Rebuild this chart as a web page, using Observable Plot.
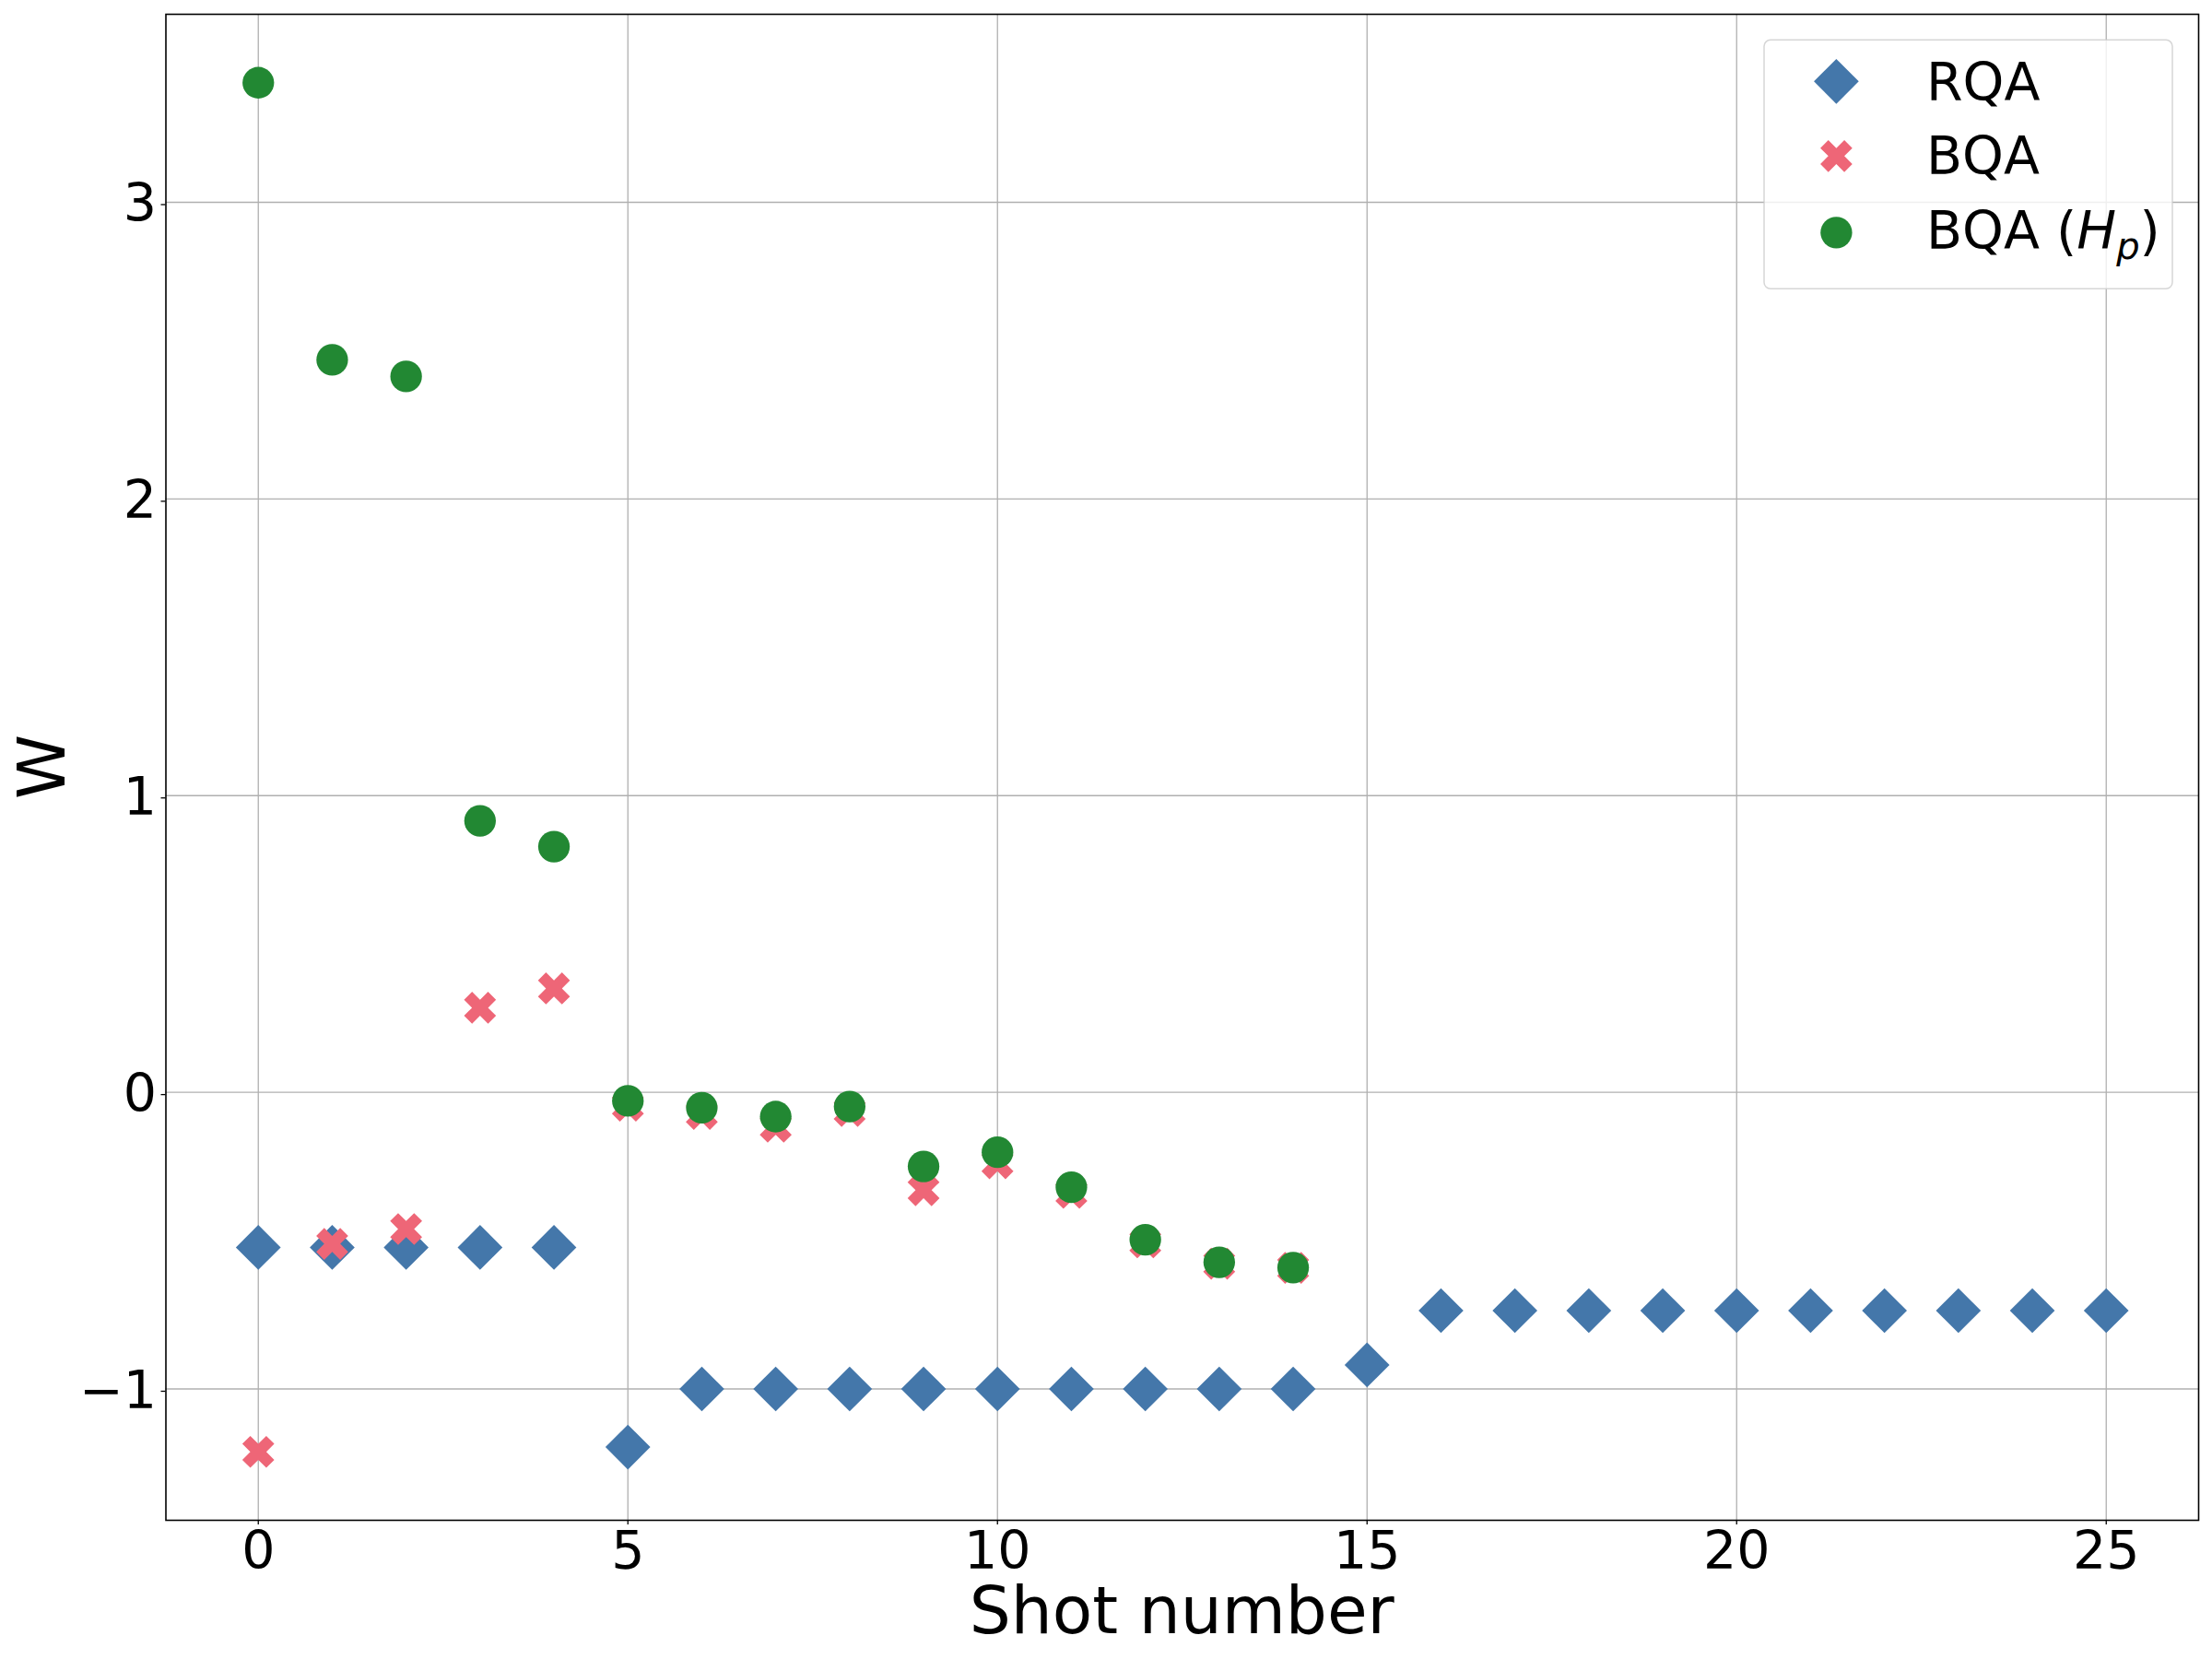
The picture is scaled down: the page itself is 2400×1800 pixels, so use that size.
<!DOCTYPE html>
<html>
<head>
<meta charset="utf-8">
<script src="https://cdn.jsdelivr.net/npm/d3@7"></script>
<script src="https://cdn.jsdelivr.net/npm/@observablehq/plot@0.6"></script>
<style>
  html, body { margin: 0; padding: 0; background: #ffffff; }
  #chart { width: 2400px; height: 1800px; }
  svg { font-family: "DejaVu Sans", sans-serif; }
</style>
</head>
<body>
<div id="chart"></div>
<script>
// ---------------- data ----------------
const shotsRQA = [0,1,2,3,4,5,6,7,8,9,10,11,12,13,14,15,16,17,18,19,20,21,22,23,24,25];
const rqa = [-0.523,-0.523,-0.523,-0.523,-0.523,-1.196,-1.0,-1.0,-1.0,-1.0,-1.0,-1.0,-1.0,-1.0,-1.0,-0.919,
             -0.736,-0.736,-0.736,-0.736,-0.736,-0.736,-0.736,-0.736,-0.736,-0.736];
const shotsBQA = [0,1,2,3,4,5,6,7,8,9,10,11,12,13,14];
const bqa = [-1.212,-0.511,-0.461,0.285,0.350,-0.045,-0.073,-0.116,-0.063,-0.330,-0.239,-0.339,-0.506,-0.578,-0.592];
const bqaHp = [3.403,2.469,2.413,0.915,0.828,-0.029,-0.052,-0.082,-0.048,-0.250,-0.202,-0.320,-0.497,-0.573,-0.591];
const xTicks = [0,5,10,15,20,25];
const yTicks = [-1,0,1,2,3];
const seriesNames = ["RQA","BQA","BQA"];
const colors = ["#4477AA","#EE6677","#228833"];
const xLabel = "Shot number";
const yLabel = "W";

// ---------------- tables ----------------
const rqaData = shotsRQA.map((s,i) => ({shot: s, w: rqa[i]}));
const bqaData = shotsBQA.map((s,i) => ({shot: s, w: bqa[i]}));
const hpData  = shotsBQA.map((s,i) => ({shot: s, w: bqaHp[i]}));

// matplotlib-like autoscale margins (5%)
const allW = rqa.concat(bqa, bqaHp);
const [wMin, wMax] = d3.extent(allW);
const wPad = 0.05 * (wMax - wMin);
const [sMin, sMax] = d3.extent(shotsRQA);
const sPad = 0.05 * (sMax - sMin);

// ---------------- symbols (matplotlib-like) ----------------
const diamondSym = { draw(ctx, size) {
  const h = Math.sqrt(size) / 2;
  ctx.moveTo(0, -h); ctx.lineTo(h, 0); ctx.lineTo(0, h); ctx.lineTo(-h, 0); ctx.closePath();
}};
const xFilledSym = { draw(ctx, size) {
  const s = Math.sqrt(size);
  const pts = [[0.25,0],[0.5,0.25],[0.75,0],[1,0.25],[0.75,0.5],[1,0.75],[0.75,1],[0.5,0.75],[0.25,1],[0,0.75],[0.25,0.5],[0,0.25]];
  pts.forEach(([a,b],i) => { const x = (a-0.5)*s, y = (b-0.5)*s; if (i) ctx.lineTo(x,y); else ctx.moveTo(x,y); });
  ctx.closePath();
}};
const SQPI = Math.sqrt(Math.PI);
const diamondExtent = 48.7, crossExtent = 34.7, circleR = 17.15;

const W = 2400, H = 1800;
const mL = 179.5, mR = 15, mT = 15, mB = 151;

const chart = Plot.plot({
  width: W, height: H,
  marginLeft: mL, marginRight: mR, marginTop: mT, marginBottom: mB,
  style: { fontFamily: "DejaVu Sans", background: "#ffffff", color: "#000000", overflow: "visible" },
  x: { domain: [sMin - sPad, sMax + sPad] },
  y: { domain: [wMin - wPad, wMax + wPad] },
  marks: [
    Plot.gridX(xTicks, { stroke: "#b0b0b0", strokeOpacity: 1, strokeWidth: 1.3 }),
    Plot.gridY(yTicks, { stroke: "#b0b0b0", strokeOpacity: 1, strokeWidth: 1.3 }),
    Plot.dot(rqaData, { x: "shot", y: "w", symbol: diamondSym, r: diamondExtent / SQPI, fill: colors[0], stroke: "none" }),
    Plot.dot(bqaData, { x: "shot", y: "w", symbol: xFilledSym, r: crossExtent / SQPI, fill: colors[1], stroke: "none" }),
    Plot.dot(hpData,  { x: "shot", y: "w", r: circleR, fill: colors[2], stroke: "none" }),
    Plot.frame({ stroke: "#000000", strokeWidth: 1.6 }),
    Plot.axisX(xTicks, { tickSize: 5, tickPadding: 7, fontSize: 57, tickFormat: d3.format("d"), label: null, strokeWidth: 1.3 }),
    Plot.axisY(yTicks, { tickSize: 5, tickPadding: 5, fontSize: 57, tickFormat: d3.format("d"), label: null, strokeWidth: 1.3, dy: 2.5 })
  ]
});
document.getElementById("chart").appendChild(chart);

// ---------------- axis labels ----------------
const svg = d3.select(chart);
const plotCx = mL + (W - mL - mR) / 2;
const plotCy = mT + (H - mT - mB) / 2;
svg.append("text")
  .attr("x", plotCx).attr("y", 1772)
  .attr("text-anchor", "middle")
  .attr("font-family", "DejaVu Sans").attr("font-size", 71).attr("fill", "#000")
  .text(xLabel);
svg.append("text")
  .attr("transform", `translate(70,${plotCy}) rotate(-90)`)
  .attr("text-anchor", "middle")
  .attr("font-family", "DejaVu Sans").attr("font-size", 71).attr("fill", "#000")
  .text(yLabel);

// ---------------- legend ----------------
const lg = svg.append("g").attr("text-anchor", "start");
lg.append("rect")
  .attr("x", 1914).attr("y", 43.3).attr("width", 443).attr("height", 270)
  .attr("rx", 7).attr("ry", 7)
  .attr("fill", "#ffffff").attr("fill-opacity", 0.8)
  .attr("stroke", "#cccccc").attr("stroke-opacity", 0.8).attr("stroke-width", 1.5);
const rowY = [88.3, 169.3, 252.3];
const baseY = [108.5, 188.5, 270];
const markerX = 1992.4, textX = 2090;
const legendFont = 57;
lg.append("path").attr("transform", `translate(${markerX},${rowY[0]})`)
  .attr("d", d3.symbol(diamondSym, diamondExtent * diamondExtent)()).attr("fill", colors[0]);
lg.append("path").attr("transform", `translate(${markerX},${rowY[1]})`)
  .attr("d", d3.symbol(xFilledSym, crossExtent * crossExtent)()).attr("fill", colors[1]);
lg.append("circle").attr("cx", markerX).attr("cy", rowY[2]).attr("r", circleR).attr("fill", colors[2]);
[0,1].forEach(i => {
  lg.append("text").attr("x", textX).attr("y", baseY[i])
    .attr("text-anchor", "start")
    .attr("font-family", "DejaVu Sans").attr("font-size", legendFont).attr("fill", "#000")
    .text(seriesNames[i]);
});
const t3 = lg.append("text").attr("x", textX).attr("y", baseY[2])
  .attr("text-anchor", "start")
  .attr("font-family", "DejaVu Sans").attr("font-size", legendFont).attr("fill", "#000");
t3.append("tspan").text(seriesNames[2] + " ");
t3.append("tspan").text("(");
t3.append("tspan").attr("font-style", "italic").text("H");
t3.append("tspan").attr("font-style", "italic").attr("font-size", 40).attr("dy", 11).text("p");
t3.append("tspan").attr("dy", -11).text(")");
</script>
</body>
</html>
